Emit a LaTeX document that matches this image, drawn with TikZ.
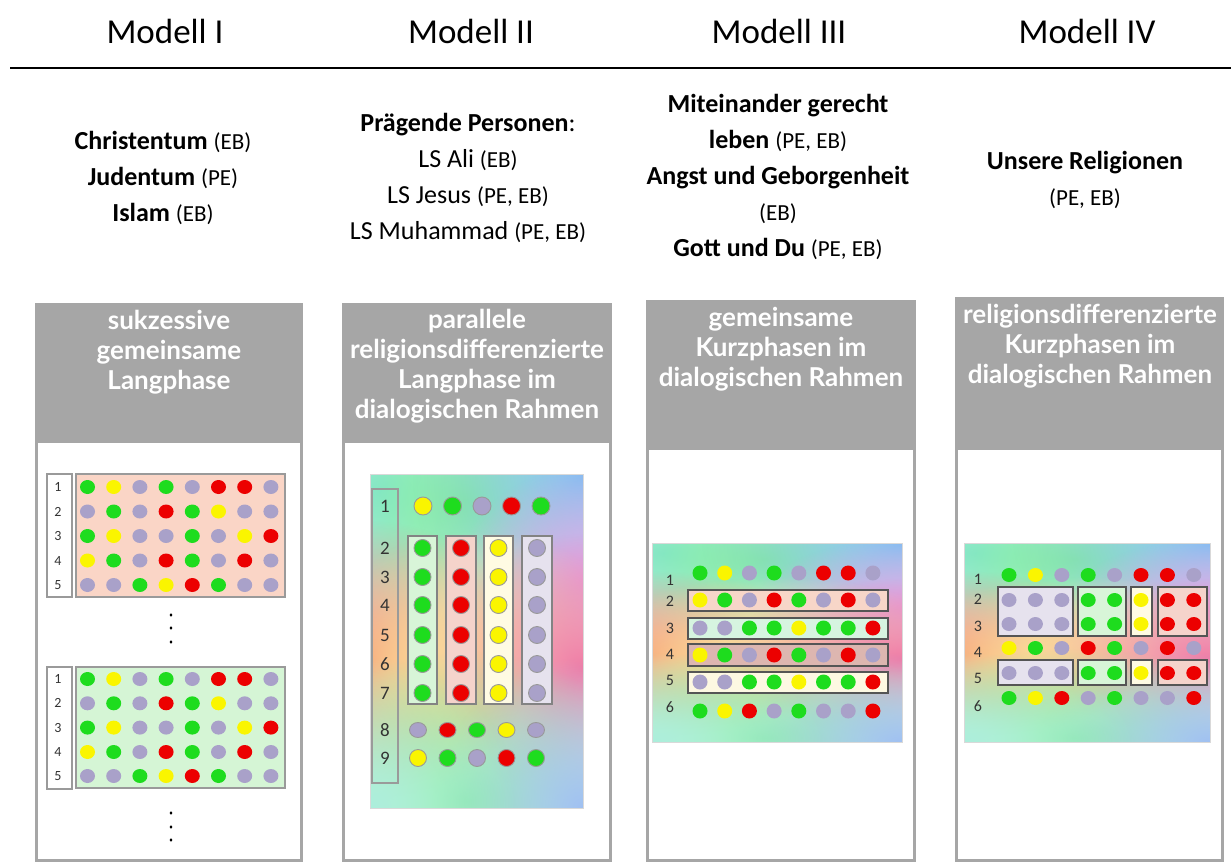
\documentclass[tikz,border=0pt]{standalone}
\usepackage{fontspec}
\setmainfont{Carlito}
\newfontfamily\hdfont{Lato}
\usetikzlibrary{fadings}
\definecolor{cG}{HTML}{1EDC1E}
\definecolor{cY}{HTML}{FAF500}
\definecolor{cP}{HTML}{A9A1C9}
\definecolor{cR}{HTML}{EC0000}
\definecolor{hdr}{HTML}{A6A6A6}
\definecolor{boxgray}{HTML}{9A9A9A}
\definecolor{darkbox}{HTML}{555555}
\definecolor{numgray}{HTML}{333333}
\definecolor{peach}{HTML}{FAD5C6}
\definecolor{mint}{HTML}{D5F5D5}
\definecolor{cbG}{HTML}{D8F5D8}
\definecolor{cbR}{HTML}{F5D3CB}
\definecolor{cbY}{HTML}{FFFBE3}
\definecolor{cbP}{HTML}{E6E2EE}
\definecolor{rbPeach}{HTML}{F7D6C8}
\definecolor{rbMint}{HTML}{D6F4E0}
\definecolor{rbMauve}{HTML}{DDB6B0}
\definecolor{rbCream}{HTML}{FDF8E2}
\definecolor{rbCyan}{HTML}{84E0E8}
\definecolor{rbGreen}{HTML}{86F09A}
\definecolor{rbBlue}{HTML}{84BEF2}
\definecolor{rbLav}{HTML}{E2A0E6}
\definecolor{rbRed}{HTML}{F47A6A}
\definecolor{rbOrange}{HTML}{F9BC84}
\definecolor{rbYellow}{HTML}{FBE59A}
\definecolor{rbPink}{HTML}{F07CA6}
\definecolor{rbBlueB}{HTML}{A0C0F2}
\definecolor{rbCyanB}{HTML}{ACEEDC}
\tikzfading[name=blobfade, inner color=transparent!0, outer color=transparent!100]

% #1 style, #2 x0, #3 dx, #4 y, #5 colour list, #6 rx, #7 ry
\newcommand{\dotrow}[7]{\foreach \cc [count=\ii from 0] in {#5} {\fill[c\cc,#1] ({#2+\ii*#3},#4) ellipse [x radius=#6pt, y radius=#7pt];}}
\newcommand{\pe}[1]{{\fontsize{23}{36}\selectfont #1}}
% rainbow background box: x1 y1 x2 y2
\newcommand{\rainbowbox}[4]{%
  \pgfmathsetmacro\rbw{#3-#1}\pgfmathsetmacro\rbh{#4-#2}%
  \begin{scope}
    \clip (#1,#2) rectangle (#3,#4);
    \fill[white] (#1,#2) rectangle (#3,#4);
    \begin{scope}[shift={(#1,#4)}, x=\rbw pt, y=\rbh pt]
      \foreach \bc/\bu/\bv/\ba/\bb in {rbCyan/0.05/0.95/0.9/0.5, rbGreen/0.45/0.92/0.8/0.45, rbBlue/1.0/1.0/0.8/0.55,
        rbLav/1.0/0.68/0.6/0.34, rbRed/0.0/0.44/0.75/0.42, rbOrange/0.22/0.33/0.5/0.3, rbYellow/0.5/0.45/0.8/0.38,
        rbPink/1.0/0.42/0.72/0.4, rbGreen/0.45/0.02/0.9/0.45, rbBlueB/1.0/0.0/0.7/0.45, rbCyanB/0.0/0.0/0.7/0.45}
        {\fill[\bc, path fading=blobfade] (\bu,\bv) ellipse [x radius=\ba, y radius=\bb];}
    \end{scope}
  \end{scope}
  \draw[white!85!black, line width=0.8pt] (#1,#2) rectangle (#3,#4);}

\begin{document}
\begin{tikzpicture}[x=1pt,y=-1pt,
  ttl/.style={font=\fontsize{35}{40}\selectfont, inner sep=0},
  desc/.style={font=\fontsize{26}{36}\selectfont, align=center, inner sep=0},
  hd/.style={font=\hdfont\bfseries\fontsize{26}{30}\selectfont, text=white, align=center, inner sep=0},
  nboxstyle/.style={draw=boxgray, line width=1.2pt},
  ring/.style={draw=black!40, line width=0.9pt},
  num1/.style={font=\fontsize{14}{14}\selectfont, text=numgray, inner sep=0},
  num2/.style={font=\fontsize{19}{19}\selectfont, text=numgray, inner sep=0},
  num3/.style={font=\fontsize{16}{16}\selectfont, text=numgray, inner sep=0},
  colbox/.style={draw=boxgray!85!black, line width=1.5pt},
  rowbox/.style={draw=darkbox, line width=1.2pt},
  edot/.style={fill=black}]
\useasboundingbox (0,0) rectangle (1231,864);
\fill[white] (0,0) rectangle (1231,864);

% titles and rule
\node[ttl] (m1) at (165,31) {Modell I};
\node[ttl] (m2) at (471,31) {Modell II};
\node[ttl] (m3) at (779,31) {Modell III};
\node[ttl] (m4) at (1087,31) {Modell IV};
\coordinate (rl) at (10,68);
\coordinate (rr) at (1231,68);
\draw[line width=2.2pt] (rl) -- (rr);

% descriptions
\node[desc] (d1) at (163,178) {\textbf{Christentum} \pe{(EB)}\\\textbf{Judentum} \pe{(PE)}\\\textbf{Islam} \pe{(EB)}};
\node[desc] (d2) at (468,178) {\textbf{Prägende Personen}:\\LS Ali \pe{(EB)}\\LS Jesus \pe{(PE, EB)}\\LS Muhammad \pe{(PE, EB)}};
\node[desc] (d3) at (778,177) {\textbf{Miteinander gerecht}\\\textbf{leben} \pe{(PE, EB)}\\\textbf{Angst und Geborgenheit}\\\pe{(EB)}\\\textbf{Gott und Du} \pe{(PE, EB)}};
\node[desc] (d4) at (1085,180) {\textbf{Unsere Religionen}\\\pe{(PE, EB)}};

% panels
\fill[hdr] (35,303) rectangle (303,862);
\fill[white] (38,443) rectangle (300,859);
\fill[hdr] (342,303) rectangle (612,862);
\fill[white] (345,443) rectangle (609,859);
\fill[hdr] (646,300) rectangle (916,862);
\fill[white] (649,450) rectangle (913,859);
\fill[hdr] (955,297) rectangle (1224,862);
\fill[white] (958,450) rectangle (1221,859);

\node[hd] (h1) at (169,352) {sukzessive\\gemeinsame\\Langphase};
\node[hd] (h2) at (477,366) {parallele\\religionsdifferenzierte\\Langphase im\\dialogischen Rahmen};
\node[hd] (h3) at (781,349) {gemeinsame\\Kurzphasen im\\dialogischen Rahmen};
\node[hd] (h4) at (1090,346) {religionsdifferenzierte\\Kurzphasen im\\dialogischen Rahmen};

% ---------- panel 1 ----------
\fill[peach, draw=boxgray, line width=1.2pt] (76,474) rectangle (285,597);
\draw[nboxstyle] (47,474) rectangle (72,597);
\dotrow{}{87.5}{26.2}{487}{G,Y,P,G,P,R,R,P}{7.5}{7}
\dotrow{}{87.5}{26.2}{511.5}{P,G,P,R,G,Y,P,P}{7.5}{7}
\dotrow{}{87.5}{26.2}{536}{G,Y,P,P,G,P,Y,R}{7.5}{7}
\dotrow{}{87.5}{26.2}{560.5}{Y,G,P,R,G,P,R,P}{7.5}{7}
\dotrow{}{87.5}{26.2}{585}{P,P,G,Y,R,G,P,P}{7.5}{7}
\foreach \t/\yy in {1/487,2/511.5,3/536,4/560.5,5/585} {\node[num1] (ga\t) at (58,\yy) {\t};}
\fill[edot] (171,615) ellipse [x radius=1.4pt, y radius=1.8pt];
\fill[edot] (171,628) ellipse [x radius=1.4pt, y radius=1.8pt];
\fill[edot] (171,642) ellipse [x radius=1.4pt, y radius=1.8pt];

\fill[mint, draw=boxgray, line width=1.2pt] (76,667) rectangle (285,788);
\draw[nboxstyle] (47,667) rectangle (72,789);
\dotrow{}{87.5}{26.2}{679}{G,Y,P,G,P,R,R,P}{7.5}{7}
\dotrow{}{87.5}{26.2}{703.3}{P,G,P,R,G,Y,P,P}{7.5}{7}
\dotrow{}{87.5}{26.2}{727.6}{G,Y,P,P,G,P,Y,R}{7.5}{7}
\dotrow{}{87.5}{26.2}{752}{Y,G,P,R,G,P,R,P}{7.5}{7}
\dotrow{}{87.5}{26.2}{776}{P,P,G,Y,R,G,P,P}{7.5}{7}
\foreach \t/\yy in {1/679,2/703.3,3/727.6,4/752,5/776} {\node[num1] (gb\t) at (58,\yy) {\t};}
\fill[edot] (171,813) ellipse [x radius=1.4pt, y radius=1.8pt];
\fill[edot] (171,827) ellipse [x radius=1.4pt, y radius=1.8pt];
\fill[edot] (171,840) ellipse [x radius=1.4pt, y radius=1.8pt];

% ---------- panel 2 ----------
\rainbowbox{370}{474}{583}{808}
\draw[nboxstyle] (372,489) rectangle (398,783);
\foreach \t/\yy in {1/506,2/548,3/577,4/605,5/635,6/664,7/693,8/730,9/758} {\node[num2] (pb\t) at (385,\yy) {\t};}
\dotrow{ring}{423}{29.5}{506}{Y,G,P,R,G}{9}{9}
\fill[cbG, colbox] (408,536) rectangle (437,704);
\fill[cbR, colbox] (446,536) rectangle (476,704);
\fill[cbY, colbox] (484,536) rectangle (513,704);
\fill[cbP, colbox] (522,536) rectangle (552,704);
\foreach \yy in {548,577,605,635,664,693} {
  \fill[cG, ring] (422.5,\yy) circle [radius=8.5pt];
  \fill[cR, ring] (461,\yy) circle [radius=8.5pt];
  \fill[cY, ring] (498.5,\yy) circle [radius=8.5pt];
  \fill[cP, ring] (537,\yy) circle [radius=8.5pt];
}
\dotrow{ring}{418}{29.5}{730}{P,R,G,Y,P}{8.5}{7.5}
\dotrow{ring}{418}{29.5}{758}{Y,G,P,R,G}{8.5}{8.5}

% ---------- panel 3 ----------
\rainbowbox{652}{543}{902}{742}
\fill[rbPeach, rowbox] (688,590) rectangle (888,611);
\fill[rbMint, rowbox] (688,618) rectangle (888,639);
\fill[rbMauve, rowbox] (688,644) rectangle (888,666);
\fill[rbCream, rowbox] (688,672) rectangle (888,693);
\dotrow{}{700}{24.7}{573}{G,Y,P,G,P,R,R,P}{7.5}{7.5}
\dotrow{}{700}{24.7}{600}{Y,G,P,R,G,P,R,P}{7.5}{7.5}
\dotrow{}{700}{24.7}{628}{P,P,G,G,Y,G,G,R}{7.5}{7.5}
\dotrow{}{700}{24.7}{655}{Y,G,P,R,G,P,R,P}{7.5}{7.5}
\dotrow{}{700}{24.7}{682}{P,P,G,G,Y,G,G,R}{7.5}{7.5}
\dotrow{}{700}{24.7}{711}{G,Y,R,P,G,P,P,R}{7.5}{7.5}
\foreach \t/\yy in {1/580,2/601,3/628,4/654,5/680,6/707} {\node[num3] (pc\t) at (670,\yy) {\t};}

% ---------- panel 4 ----------
\rainbowbox{964}{543}{1210}{742}
\fill[cbP, rowbox] (998,587) rectangle (1073,636);
\fill[cbG, rowbox] (1078,587) rectangle (1126,636);
\fill[cbY, rowbox] (1131,587) rectangle (1152,636);
\fill[cbR, rowbox] (1158,587) rectangle (1207,636);
\fill[cbP, rowbox] (998,660) rectangle (1073,685);
\fill[cbG, rowbox] (1078,660) rectangle (1126,685);
\fill[cbY, rowbox] (1131,660) rectangle (1152,685);
\fill[cbR, rowbox] (1158,660) rectangle (1207,685);
\dotrow{}{1009}{26.4}{575}{G,Y,P,G,P,R,R,P}{7.5}{7}
\dotrow{}{1009}{26.4}{600}{P,P,P,G,G,Y,R,R}{7.5}{7}
\dotrow{}{1009}{26.4}{624}{P,P,P,G,G,Y,R,R}{7.5}{7}
\dotrow{}{1009}{26.4}{648}{Y,G,P,R,G,P,R,P}{7.5}{7}
\dotrow{}{1009}{26.4}{673}{P,P,P,G,G,Y,R,R}{7.5}{7}
\dotrow{}{1009}{26.4}{698}{G,Y,R,P,G,P,P,R}{7.5}{7}
\foreach \t/\yy in {1/579,2/599,3/626,4/652,5/678,6/706} {\node[num3] (pd\t) at (978,\yy) {\t};}
\end{tikzpicture}
\end{document}
